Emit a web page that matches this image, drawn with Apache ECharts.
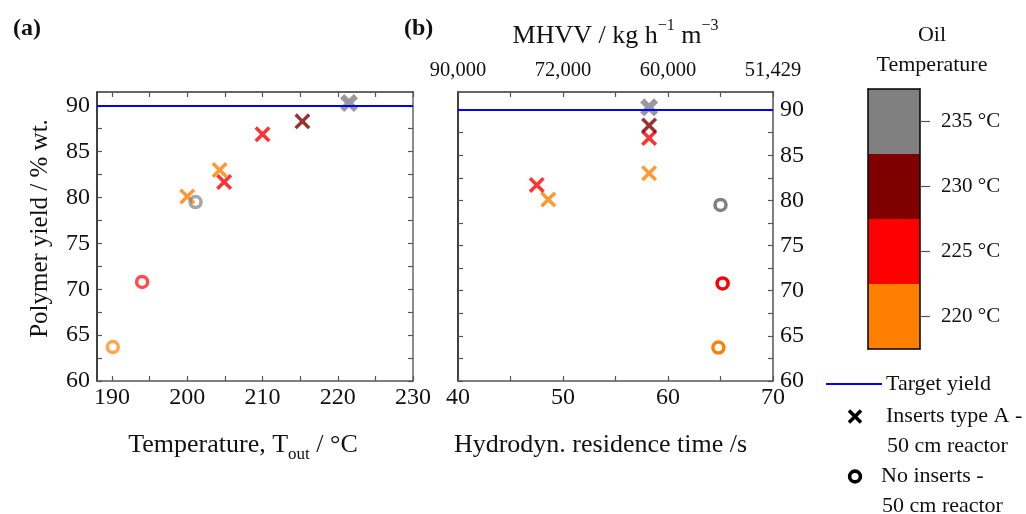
<!DOCTYPE html>
<html>
<head>
<meta charset="utf-8">
<script src="https://cdn.jsdelivr.net/npm/echarts@6/dist/echarts.min.js"></script>
<style>
  html, body { margin: 0; padding: 0; background: #ffffff; }
  #chart { width: 1026px; height: 514px; }
</style>
</head>
<body>
<div id="chart"></div>
<script>
// Oil temperature classes (colour key)
const oilTemperatures = [220, 225, 230, 235];
const oilLabels = ['220 °C', '225 °C', '230 °C', '235 °C'];

// Inserts type A, 50 cm reactor
const insertsOil = [220, 220, 225, 225, 230, 235];
const insertsTout = [200.0, 204.3, 204.9, 210.0, 215.3, 221.5];
const insertsTime = [48.6, 58.2, 47.5, 58.2, 58.2, 58.2];
const insertsYield = [80.1, 83.0, 81.7, 86.9, 88.3, 90.3];

// No inserts, 50 cm reactor
const plainOil = [220, 225, 235];
const plainTout = [190.1, 194.0, 201.1];
const plainTime = [64.8, 65.2, 65.0];
const plainYield = [63.7, 70.8, 79.5];

const targetYield = 90;

// Axis ticks and tick labels
const toutTicks = [190, 195, 200, 205, 210, 215, 220, 225, 230];
const toutLabels = [190, 200, 210, 220, 230];
const yieldTicks = [60, 62.5, 65, 67.5, 70, 72.5, 75, 77.5, 80, 82.5, 85, 87.5, 90];
const yieldLabels = [60, 65, 70, 75, 80, 85, 90];
const timeTicks = [40, 45, 50, 55, 60, 65, 70];
const timeLabels = [40, 50, 60, 70];
const mhvvLabels = ['90,000', '72,000', '60,000', '51,429'];

const FONT = 'Liberation Serif';
const TXT = '#111111';
const oilColor = { 220: '#ff8000', 225: '#ff0000', 230: '#800000', 235: '#808080' };

// X-shaped marker with arm thickness d (in a 20x20 box)
function crossPath(d) {
  return 'path://M0,' + d + ' L' + d + ',0 L10,' + (10 - d) + ' L' + (20 - d) + ',0 L20,' + d +
    ' L' + (10 + d) + ',10 L20,' + (20 - d) + ' L' + (20 - d) + ',20 L10,' + (10 + d) +
    ' L' + d + ',20 L0,' + (20 - d) + ' L' + (10 - d) + ',10 Z';
}

function crossItems(xs) {
  return xs.map((x, i) => {
    const bold = insertsOil[i] === 235;
    return {
      value: [x, insertsYield[i]],
      symbol: crossPath(bold ? 4.6 : 3.1),
      symbolSize: bold ? 18 : 16,
      itemStyle: { color: oilColor[insertsOil[i]] }
    };
  });
}

function ringItems(xs, opacity) {
  return xs.map((x, i) => ({
    value: [x, plainYield[i]],
    itemStyle: { color: 'rgba(0,0,0,0)', borderColor: oilColor[plainOil[i]], borderWidth: 3.5, opacity: opacity }
  }));
}

const targetLine = {
  silent: true,
  symbol: ['none', 'none'],
  label: { show: false },
  lineStyle: { color: '#0000ff', width: 2, type: 'solid' },
  data: [{ yAxis: targetYield }]
};

const tickStyle = { color: '#555555', width: 1.2 };
const lbl = { fontFamily: FONT, fontSize: 24, color: TXT };
const topLbl = { fontFamily: FONT, fontSize: 20.5, color: TXT };

function frameAxis(extra) {
  return Object.assign({
    type: 'value',
    axisLine: { show: true, onZero: false, lineStyle: { color: '#555555', width: 1.5 } },
    axisTick: { show: true, inside: true, length: 5, lineStyle: tickStyle },
    axisLabel: { show: false },
    splitLine: { show: false }
  }, extra);
}

function line(color) {
  return { show: true, onZero: false, lineStyle: { color: color, width: 1.5 } };
}

const chart = echarts.init(document.getElementById('chart'), null, { renderer: 'canvas' });

chart.setOption({
  animation: false,
  backgroundColor: '#ffffff',
  textStyle: { fontFamily: FONT },
  grid: [
    { left: 97, top: 92, width: 316, height: 289 },
    { left: 458, top: 92, width: 315, height: 289 },
    { left: 868, top: 89, width: 52, height: 260 }
  ],
  xAxis: [
    frameAxis({
      gridIndex: 0, position: 'bottom', min: 188, max: 230,
      axisTick: { show: true, inside: true, length: 5, lineStyle: tickStyle, customValues: toutTicks },
      axisLabel: Object.assign({ show: true, margin: 5, customValues: toutLabels }, lbl),
      name: '{a|Temperature, T}{sub|out}{a| / °C}',
      nameLocation: 'middle', nameGap: 46,
      nameTextStyle: {
        padding: [0, 24, 0, 0],
        rich: {
          a: { fontFamily: FONT, fontSize: 26, color: TXT, lineHeight: 36 },
          sub: { fontFamily: FONT, fontSize: 17, color: TXT, lineHeight: 17, verticalAlign: 'bottom' }
        }
      }
    }),
    frameAxis({
      gridIndex: 0, position: 'top', min: 188, max: 230,
      axisLine: line('#333333'),
      axisTick: { show: true, inside: true, length: 5, lineStyle: tickStyle, customValues: toutTicks }
    }),
    frameAxis({
      gridIndex: 1, position: 'bottom', min: 40, max: 70,
      axisTick: { show: true, inside: true, length: 5, lineStyle: tickStyle, customValues: timeTicks },
      axisLabel: Object.assign({ show: true, margin: 5, customValues: timeLabels }, lbl),
      name: 'Hydrodyn. residence time /s',
      nameLocation: 'middle', nameGap: 51,
      nameTextStyle: { fontFamily: FONT, fontSize: 26, color: TXT, padding: [0, 30, 0, 0] }
    }),
    frameAxis({
      gridIndex: 1, position: 'top', min: 40, max: 70,
      axisLine: line('#333333'),
      axisTick: { show: true, inside: true, length: 5, lineStyle: tickStyle, customValues: timeTicks },
      axisLabel: Object.assign({
        show: true, margin: 11, customValues: timeLabels,
        formatter: v => mhvvLabels[timeLabels.indexOf(v)]
      }, topLbl),
      name: '{a|MHVV / kg h}{sup|−1}{a| m}{sup|−3}',
      nameLocation: 'middle', nameGap: 38,
      nameTextStyle: {
        rich: {
          a: { fontFamily: FONT, fontSize: 26, color: TXT, lineHeight: 36 },
          sup: { fontFamily: FONT, fontSize: 16, color: TXT, lineHeight: 16, verticalAlign: 'top' }
        }
      }
    }),
    {
      type: 'value', gridIndex: 2, min: 0, max: 1, position: 'bottom', z: 10,
      axisLine: line('#000000'),
      axisTick: { show: false }, axisLabel: { show: false }, splitLine: { show: false }
    },
    {
      type: 'value', gridIndex: 2, min: 0, max: 1, position: 'top', z: 10,
      axisLine: line('#000000'),
      axisTick: { show: false }, axisLabel: { show: false }, splitLine: { show: false }
    }
  ],
  yAxis: [
    frameAxis({
      gridIndex: 0, position: 'left', min: 60, max: 91.5,
      axisLine: line('#000000'),
      axisTick: { show: true, inside: true, length: 5, lineStyle: tickStyle, customValues: yieldTicks },
      axisLabel: Object.assign({ show: true, margin: 7, customValues: yieldLabels }, lbl),
      name: 'Polymer yield / % wt.',
      nameLocation: 'middle', nameGap: 44,
      nameTextStyle: { fontFamily: FONT, fontSize: 25, color: TXT, padding: [0, 0, 0, 16] }
    }),
    frameAxis({
      gridIndex: 0, position: 'right', min: 60, max: 91.5,
      axisLine: line('#666666'),
      axisTick: { show: true, inside: true, length: 5, lineStyle: tickStyle, customValues: yieldTicks }
    }),
    frameAxis({
      gridIndex: 1, position: 'left', min: 60, max: 92,
      axisLine: line('#000000'),
      axisTick: { show: true, inside: true, length: 5, lineStyle: tickStyle, customValues: yieldTicks }
    }),
    frameAxis({
      gridIndex: 1, position: 'right', min: 60, max: 92,
      axisLine: line('#555555'),
      axisTick: { show: true, inside: true, length: 5, lineStyle: tickStyle, customValues: yieldTicks },
      axisLabel: Object.assign({ show: true, margin: 7, customValues: yieldLabels }, lbl)
    }),
    {
      type: 'category', gridIndex: 2, position: 'right', data: oilLabels, z: 10,
      axisLine: line('#000000'),
      axisTick: { show: true, alignWithLabel: true, inside: false, length: 10, lineStyle: { color: '#555555', width: 1.2 } },
      axisLabel: { show: true, margin: 21, fontFamily: FONT, fontSize: 21, color: TXT },
      splitLine: { show: false }
    },
    {
      type: 'category', gridIndex: 2, position: 'left', data: oilLabels, z: 10,
      axisLine: line('#000000'),
      axisTick: { show: false }, axisLabel: { show: false }, splitLine: { show: false }
    }
  ],
  series: [
    {
      name: 'Inserts type A - 50 cm reactor', type: 'scatter', xAxisIndex: 0, yAxisIndex: 0, z: 3,
      data: crossItems(insertsTout),
      markLine: targetLine
    },
    {
      name: 'No inserts - 50 cm reactor', type: 'scatter', xAxisIndex: 0, yAxisIndex: 0, z: 3,
      symbol: 'circle', symbolSize: 11,
      data: ringItems(plainTout, 0.7)
    },
    {
      name: 'Inserts type A - 50 cm reactor', type: 'scatter', xAxisIndex: 2, yAxisIndex: 2, z: 3,
      data: crossItems(insertsTime),
      markLine: targetLine
    },
    {
      name: 'No inserts - 50 cm reactor', type: 'scatter', xAxisIndex: 2, yAxisIndex: 2, z: 3,
      symbol: 'circle', symbolSize: 11,
      data: ringItems(plainTime, 1)
    },
    {
      name: 'Oil temperature', type: 'bar', xAxisIndex: 4, yAxisIndex: 4, z: 1,
      barWidth: '100%', silent: true,
      data: oilTemperatures.map(t => ({ value: 1, itemStyle: { color: oilColor[t] } }))
    }
  ],
  graphic: [
    { type: 'text', left: 13, top: 17, style: { text: '(a)', font: 'bold 24px ' + FONT, fill: TXT } },
    { type: 'text', left: 404, top: 17, style: { text: '(b)', font: 'bold 24px ' + FONT, fill: TXT } },
    { type: 'text', x: 932, y: 35, style: { text: 'Oil', font: '22px ' + FONT, fill: TXT, align: 'center', verticalAlign: 'middle' } },
    { type: 'text', x: 932, y: 65, style: { text: 'Temperature', font: '22px ' + FONT, fill: TXT, align: 'center', verticalAlign: 'middle' } },
    // legend: target line
    { type: 'line', shape: { x1: 826, y1: 384, x2: 882, y2: 384 }, style: { stroke: '#0000ff', lineWidth: 2 } },
    { type: 'text', x: 886, y: 384, style: { text: 'Target yield', font: '22px ' + FONT, fill: TXT, verticalAlign: 'middle' } },
    // legend: inserts (cross)
    { type: 'line', shape: { x1: 849, y1: 410.5, x2: 861, y2: 422.5 }, style: { stroke: '#000000', lineWidth: 3.6 } },
    { type: 'line', shape: { x1: 861, y1: 410.5, x2: 849, y2: 422.5 }, style: { stroke: '#000000', lineWidth: 3.6 } },
    { type: 'text', x: 886, y: 416, style: { text: 'Inserts type A -', font: '22px ' + FONT, fill: TXT, verticalAlign: 'middle' } },
    { type: 'text', x: 887, y: 446, style: { text: '50 cm reactor', font: '22px ' + FONT, fill: TXT, verticalAlign: 'middle' } },
    // legend: no inserts (ring)
    { type: 'circle', shape: { cx: 855, cy: 476.5, r: 5.4 }, style: { fill: 'none', stroke: '#000000', lineWidth: 3.6 } },
    { type: 'text', x: 881, y: 476, style: { text: 'No inserts -', font: '22px ' + FONT, fill: TXT, verticalAlign: 'middle' } },
    { type: 'text', x: 882, y: 506, style: { text: '50 cm reactor', font: '22px ' + FONT, fill: TXT, verticalAlign: 'middle' } }
  ]
});
</script>
</body>
</html>
